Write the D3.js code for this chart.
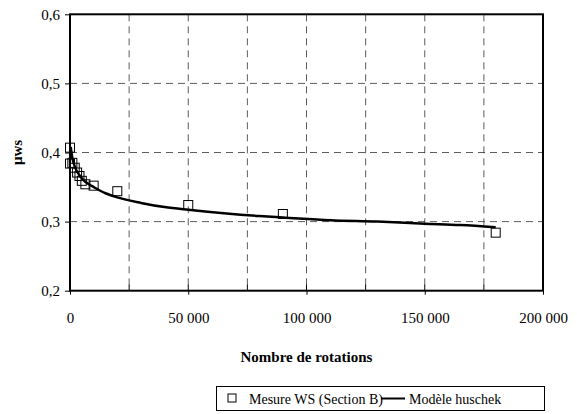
<!DOCTYPE html>
<html><head><meta charset="utf-8">
<script src="https://cdn.jsdelivr.net/npm/d3@7"></script>
<style>
body{margin:0;background:#fff}
svg, svg text{font-family:"Liberation Serif", serif !important;}
</style>
</head><body>
<svg id="c" width="577" height="414" font-family="Liberation Serif"></svg>
<script>
// Measured points (Mesure WS, Section B)
const measureN  = [0, 0, 1000, 2000, 3000, 4000, 5000, 6500, 10000, 20000, 50000, 90000, 180000];
const measureMu = [0.407, 0.384, 0.385, 0.378, 0.371, 0.366, 0.359, 0.354, 0.352, 0.344, 0.324, 0.311, 0.284];
// Huschek model curve
const modelN  = [300, 1000, 2000, 4000, 6000, 8000, 10000, 15000, 20000, 30000, 40000, 50000, 65000, 80000, 90000, 110000, 130000, 150000, 165000, 180000];
const modelMu = [0.408, 0.392, 0.380, 0.367, 0.359, 0.354, 0.350, 0.341, 0.335, 0.327, 0.321, 0.317, 0.312, 0.308, 0.306, 0.302, 0.300, 0.297, 0.295, 0.292];
const xTicks = [0, 50000, 100000, 150000, 200000];
const xMinor = [25000, 75000, 125000, 175000];
const yTicks = [0.2, 0.3, 0.4, 0.5, 0.6];

const svg = d3.select("#c");
const L = 70, R = 543, T = 14.3, B = 290.7;
const x = d3.scaleLinear().domain([0, 200000]).range([L, R]);
const y = d3.scaleLinear().domain([0.2, 0.6]).range([B, T]);
const fmtX = d => d3.format(",")(d).replace(/,/g, "\u00a0");
const fmtY = d => d3.format(".1f")(d).replace(".", ",");

// grid
const g = svg.append("g");
g.selectAll("line.v").data(xMinor.concat(xTicks.slice(1, -1))).join("line")
  .attr("x1", d => x(d)).attr("x2", d => x(d)).attr("y1", T).attr("y2", B)
  .attr("stroke", "#333").attr("stroke-width", 0.8).attr("stroke-dasharray", "7,5");
g.selectAll("line.h").data(yTicks.slice(1, -1)).join("line")
  .attr("x1", L).attr("x2", R).attr("y1", d => y(d)).attr("y2", d => y(d))
  .attr("stroke", "#333").attr("stroke-width", 0.8).attr("stroke-dasharray", "7,5");

// frame
svg.append("rect").attr("x", L).attr("y", T).attr("width", R - L).attr("height", B - T)
  .attr("fill", "none").attr("stroke", "#000").attr("stroke-width", 2);

// x axis
const xa = svg.append("g").attr("transform", `translate(0,${B})`)
  .call(d3.axisBottom(x).tickValues(xTicks).tickFormat(fmtX).tickSize(4).tickPadding(18));
xa.select(".domain").remove();
xa.selectAll("text").attr("font-size", 15).attr("fill", "#000");
xa.selectAll("line").attr("stroke", "#000");
svg.append("g").selectAll("line").data(xTicks.concat(xMinor)).join("line")
  .attr("x1", d => x(d)).attr("x2", d => x(d)).attr("y1", B).attr("y2", B - 6)
  .attr("stroke", "#000").attr("stroke-width", 1);

// y axis
const ya = svg.append("g").attr("transform", `translate(${L},0)`)
  .call(d3.axisLeft(y).tickValues(yTicks).tickFormat(fmtY).tickSize(5).tickPadding(5));
ya.select(".domain").remove();
ya.selectAll("text").attr("font-size", 15).attr("fill", "#000");
ya.selectAll("line").attr("stroke", "#000");

// model line
const lineData = modelN.map((n, i) => [n, modelMu[i]]);
svg.append("path").datum(lineData)
  .attr("d", d3.line().x(d => x(d[0])).y(d => y(d[1])).curve(d3.curveMonotoneX))
  .attr("fill", "none").attr("stroke", "#000").attr("stroke-width", 2.5);

// markers
const pts = measureN.map((n, i) => [n, measureMu[i]]);
svg.append("g").selectAll("rect").data(pts).join("rect")
  .attr("x", d => x(d[0]) - 4.5).attr("y", d => y(d[1]) - 4.5)
  .attr("width", 9).attr("height", 9)
  .attr("fill", "none").attr("stroke", "#000").attr("stroke-width", 1);

// titles
svg.append("text").attr("x", (L + R) / 2).attr("y", 362).attr("text-anchor", "middle")
  .attr("font-size", 15).attr("font-weight", "bold").text("Nombre de rotations");
svg.append("text").attr("transform", `translate(22,${(T + B) / 2}) rotate(-90)`)
  .attr("text-anchor", "middle").attr("font-size", 15).attr("font-weight", "bold").text("μws");

// legend
const lg = svg.append("g");
lg.append("rect").attr("x", 216.5).attr("y", 386.5).attr("width", 328).attr("height", 24)
  .attr("fill", "#fff").attr("stroke", "#000").attr("stroke-width", 1);
lg.append("rect").attr("x", 228).attr("y", 394).attr("width", 8).attr("height", 8)
  .attr("fill", "none").attr("stroke", "#000");
lg.append("text").attr("x", 249).attr("y", 404).attr("font-size", 14).text("Mesure WS (Section B)");
lg.append("line").attr("x1", 381).attr("x2", 405).attr("y1", 398.5).attr("y2", 398.5)
  .attr("stroke", "#000").attr("stroke-width", 2);
lg.append("text").attr("x", 409).attr("y", 404).attr("font-size", 14).text("Modèle huschek");

// serif face on every text element
svg.selectAll("g").attr("font-family", null);
svg.selectAll("text").attr("font-family", "Liberation Serif");
</script>
</body></html>
